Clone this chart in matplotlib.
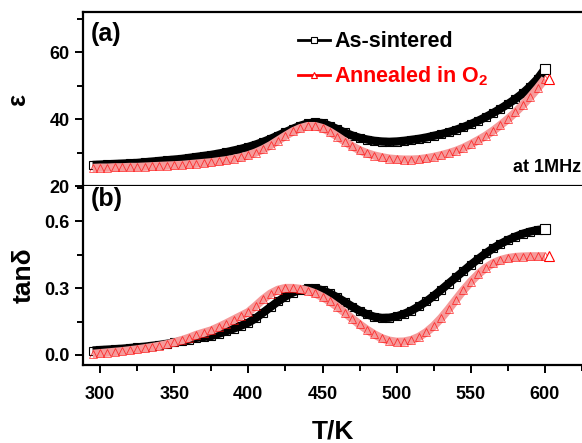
import matplotlib
matplotlib.use("Agg")
import matplotlib.pyplot as plt
from matplotlib.ticker import MultipleLocator

plt.rcParams['font.family'] = ['Liberation Sans', 'DejaVu Sans']
plt.rcParams['font.weight'] = 'bold'
plt.rcParams['mathtext.fontset'] = 'custom'
plt.rcParams['mathtext.bf'] = 'Liberation Sans:bold'
plt.rcParams['mathtext.rm'] = 'Liberation Sans:bold'

# temperature (K), 5 K steps
temp = [295, 300, 305, 310, 315, 320, 325, 330, 335, 340, 345, 350, 355, 360,
        365, 370, 375, 380, 385, 390, 395, 400, 405, 410, 415, 420, 425, 430,
        435, 440, 445, 450, 455, 460, 465, 470, 475, 480, 485, 490, 495, 500,
        505, 510, 515, 520, 525, 530, 535, 540, 545, 550, 555, 560, 565, 570,
        575, 580, 585, 590, 595, 600]

# permittivity at 1 MHz
eps_sintered = [26.3, 26.4, 26.5, 26.6, 26.7, 26.8, 26.9, 27.1, 27.3, 27.5, 27.7,
                27.9, 28.1, 28.4, 28.7, 29.0, 29.3, 29.7, 30.1, 30.6, 31.1, 31.7,
                32.4, 33.2, 34.1, 35.1, 36.1, 37.1, 38.0, 38.7, 39.0, 38.8, 38.0,
                37.0, 36.0, 35.1, 34.4, 33.9, 33.5, 33.3, 33.2, 33.3, 33.5, 33.8,
                34.1, 34.5, 35.0, 35.5, 36.1, 36.8, 37.6, 38.5, 39.5, 40.6, 41.8,
                43.1, 44.5, 46.0, 47.7, 49.7, 52.0, 55.0]
eps_annealed = [25.4, 25.5, 25.5, 25.6, 25.6, 25.7, 25.7, 25.8, 25.9, 26.0, 26.1,
                26.2, 26.3, 26.5, 26.7, 26.9, 27.1, 27.4, 27.7, 28.1, 28.6, 29.2,
                30.0, 31.0, 32.2, 33.6, 35.0, 36.3, 37.3, 37.9, 37.9, 37.3, 36.2,
                34.8, 33.3, 31.9, 30.7, 29.8, 29.1, 28.6, 28.2, 28.0, 27.9, 27.9,
                28.0, 28.3, 28.7, 29.2, 29.8, 30.5, 31.4, 32.5, 33.7, 35.0, 36.5,
                38.2, 40.0, 42.0, 44.2, 46.6, 49.2, 52.0]

# loss tangent
tan_sintered = [0.020, 0.022, 0.024, 0.026, 0.028, 0.031, 0.034, 0.037, 0.041,
                0.045, 0.050, 0.056, 0.062, 0.069, 0.077, 0.081, 0.085, 0.095,
                0.106, 0.118, 0.131, 0.145, 0.165, 0.190, 0.215, 0.240, 0.262,
                0.280, 0.292, 0.298, 0.298, 0.290, 0.276, 0.258, 0.238, 0.217,
                0.198, 0.182, 0.171, 0.166, 0.167, 0.173, 0.184, 0.199, 0.218,
                0.240, 0.265, 0.292, 0.320, 0.348, 0.376, 0.404, 0.430, 0.455,
                0.478, 0.498, 0.515, 0.530, 0.543, 0.553, 0.560, 0.564]
tan_annealed = [0.005, 0.008, 0.011, 0.014, 0.017, 0.021, 0.025, 0.030, 0.035,
                0.041, 0.048, 0.056, 0.066, 0.077, 0.090, 0.100, 0.110, 0.125,
                0.141, 0.158, 0.175, 0.192, 0.220, 0.250, 0.275, 0.292, 0.300,
                0.300, 0.296, 0.288, 0.276, 0.260, 0.240, 0.216, 0.190, 0.163,
                0.137, 0.113, 0.092, 0.075, 0.064, 0.059, 0.060, 0.067, 0.081,
                0.102, 0.130, 0.165, 0.205, 0.248, 0.290, 0.328, 0.362, 0.390,
                0.411, 0.425, 0.434, 0.439, 0.441, 0.442, 0.442, 0.442]

fig = plt.figure(figsize=(5.82, 4.43), dpi=100)
ax1 = fig.add_axes([0.1426, 0.580, 0.86, 0.393])
ax2 = fig.add_axes([0.1426, 0.176, 0.86, 0.404])


def draw(ax, y_black, y_red):
    ax.plot(temp, y_black, color='black', lw=6, solid_capstyle='butt', zorder=2)
    ax.plot(temp, y_black, ls='none', marker='s', ms=6, mfc='none', mec='black',
            mew=0.8, zorder=3)
    ax.plot(temp, y_red, color='#f59a9a', lw=6, solid_capstyle='butt', zorder=4)
    ax.plot(temp, y_red, ls='none', marker='^', ms=6, mfc='none', mec='red',
            mew=0.6, alpha=0.7, zorder=5)
    # open end markers
    ax.plot(temp[-1], y_black[-1], marker='s', ms=7, mfc='white', mec='black',
            mew=0.8, zorder=6)
    ax.plot(temp[-1] + 3, y_red[-1], marker='^', ms=7, mfc='white', mec='red',
            mew=0.8, zorder=6)


draw(ax1, eps_sintered, eps_annealed)
draw(ax2, tan_sintered, tan_annealed)

for ax in (ax1, ax2):
    ax.set_xlim(288.5, 626)
    ax.xaxis.set_major_locator(MultipleLocator(50))
    ax.xaxis.set_minor_locator(MultipleLocator(25))
    for s in ax.spines.values():
        s.set_linewidth(1.6)
    ax.spines['right'].set_visible(False)
    ax.tick_params(which='both', direction='out', width=1.4, top=False, right=False,
                   labelsize=13)
    ax.tick_params(which='major', length=6)
    ax.tick_params(which='minor', length=4)
    ax.tick_params(axis='x', pad=9)
    for lab in ax.get_xticklabels() + ax.get_yticklabels():
        lab.set_fontweight('bold')

ax1.set_ylim(20, 72)
ax1.yaxis.set_major_locator(MultipleLocator(20))
ax1.yaxis.set_minor_locator(MultipleLocator(10))
ax1.tick_params(axis='x', labelbottom=False)
ax1.set_ylabel('ε', fontsize=18, fontweight='bold', labelpad=14)

ax2.set_ylim(-0.045, 0.757)
ax2.yaxis.set_major_locator(MultipleLocator(0.3))
ax2.yaxis.set_minor_locator(MultipleLocator(0.15))
ax2.yaxis.set_major_formatter(plt.FuncFormatter(lambda v, _: f'{v:.1f}'))
ax2.spines['top'].set_visible(False)
ax2.set_ylabel('tanδ', fontsize=19, fontweight='bold', labelpad=6)
ax2.set_xlabel('T/K', fontsize=19, fontweight='bold', labelpad=12)

ax1.text(0.015, 0.94, '(a)', transform=ax1.transAxes, fontsize=18,
         fontweight='bold', va='top')
ax2.text(0.015, 0.995, '(b)', transform=ax2.transAxes, fontsize=18,
         fontweight='bold', va='top')
ax1.text(0.995, 0.06, 'at 1MHz', transform=ax1.transAxes, fontsize=13,
         fontweight='bold', ha='right', va='bottom')

# legend handles
h1, = ax1.plot([], [], color='black', lw=2, marker='s', ms=5, mfc='white',
               mec='black', mew=0.8)
h2, = ax1.plot([], [], color='red', lw=2, marker='^', ms=5, mfc='white',
               mec='red', mew=0.8)
ax1.legend([h1, h2], ['As-sintered', r'Annealed in O$_\mathbf{2}$'],
           loc='upper left', bbox_to_anchor=(0.39, 1.0), frameon=False,
           handlelength=1.5, handletextpad=0.2, numpoints=1,
           labelspacing=0.55, labelcolor='linecolor',
           prop={'weight': 'bold', 'size': 15.5})

fig.savefig('out.png', dpi=100)
